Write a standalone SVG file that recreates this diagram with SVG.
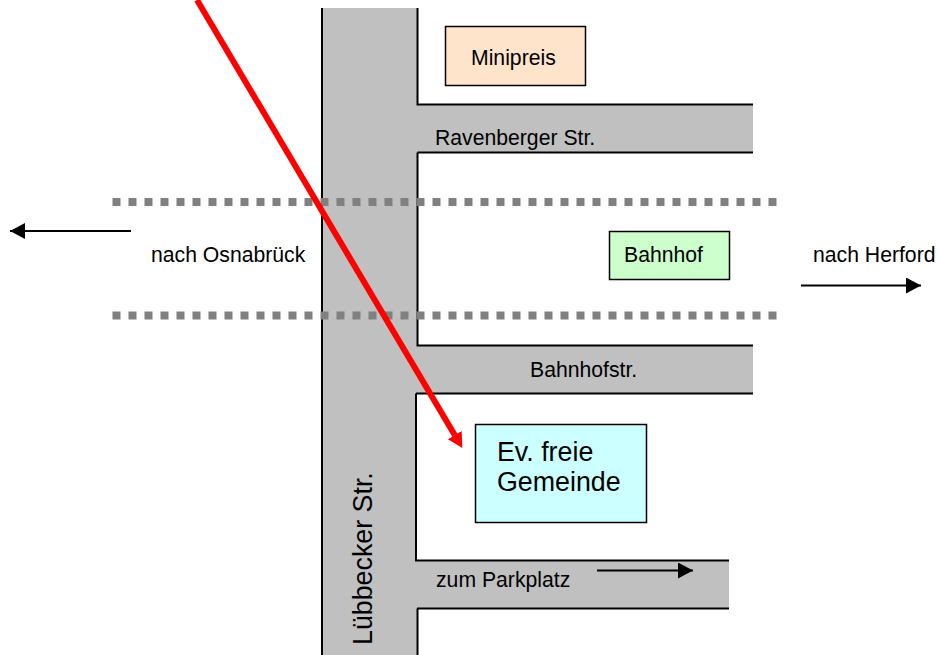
<svg xmlns="http://www.w3.org/2000/svg" width="939" height="655" viewBox="0 0 939 655">
<style>
text{font-family:"Liberation Sans",Arial,sans-serif;fill:#000}
.t{font-size:21.2px}
.b{font-size:26.8px}
.edge{fill:none;stroke:#000;stroke-width:2}
.box{stroke:#000;stroke-width:1.500}
.rail{fill:none;stroke:#808080;stroke-width:8;stroke-dasharray:8 8}
.arrow{fill:none;stroke:#000;stroke-width:2.200}
</style>
<defs>
<marker id="ah" markerUnits="userSpaceOnUse" markerWidth="16" markerHeight="16" refX="15" refY="8" orient="auto"><path d="M0 0L15 8L0 16Z" fill="#000"/></marker>
<marker id="rh" markerUnits="userSpaceOnUse" markerWidth="17" markerHeight="17" refX="0.500" refY="8" orient="auto"><path d="M0 0L15 8L0 16Z" fill="#f00"/></marker>
</defs>
<rect width="939" height="655" fill="#fff"/>
<g id="roads">
<path fill="#c0c0c0" d="M322 8H417V104H753V152H417V345H753V393H416V560H729V608H417V655H322Z"/>
<path class="edge" d="M322 8V655M417.500 8V104.500H753M417.500 152.500H753M417.500 152.500V345.500H753M416 393.500H753M416 393.500V560.500H729M417 608.500H729M417.500 608.500V655"/>
</g>
<g id="connectors">
<path class="rail" d="M112.500 202H780"/>
<path class="rail" d="M112.500 315.500H780"/>
<path class="arrow" marker-end="url(#ah)" d="M131 231H10"/>
<path class="arrow" marker-end="url(#ah)" d="M801 285.500H921"/>
<path class="arrow" marker-end="url(#ah)" d="M597 570.500H693"/>
<path fill="none" stroke="#f00" stroke-width="6" marker-end="url(#rh)" d="M197 0L455 435.500"/>
</g>
<g id="minipreis"><rect class="box" x="445.500" y="26.500" width="140" height="59" fill="#ffe4cc"/><text class="t" x="471" y="64.500">Minipreis</text></g>
<g id="bahnhof"><rect class="box" x="609.500" y="231.500" width="120" height="48" fill="#ccffcc"/><text class="t" x="624" y="262">Bahnhof</text></g>
<g id="gemeinde"><rect class="box" x="475.500" y="424.500" width="171" height="98" fill="#ccffff"/><text class="b" x="497" y="461">Ev. freie</text><text class="b" x="497" y="491">Gemeinde</text></g>
<g id="labels">
<text class="t" x="435" y="145">Ravenberger Str.</text>
<text class="t" x="530" y="377">Bahnhofstr.</text>
<text class="t" x="436" y="587">zum Parkplatz</text>
<text class="t" x="151" y="262">nach Osnabrück</text>
<text class="t" x="813" y="262">nach Herford</text>
<text class="b" x="372" y="645" transform="rotate(-90 372 645)">Lübbecker Str.</text>
</g>
</svg>
